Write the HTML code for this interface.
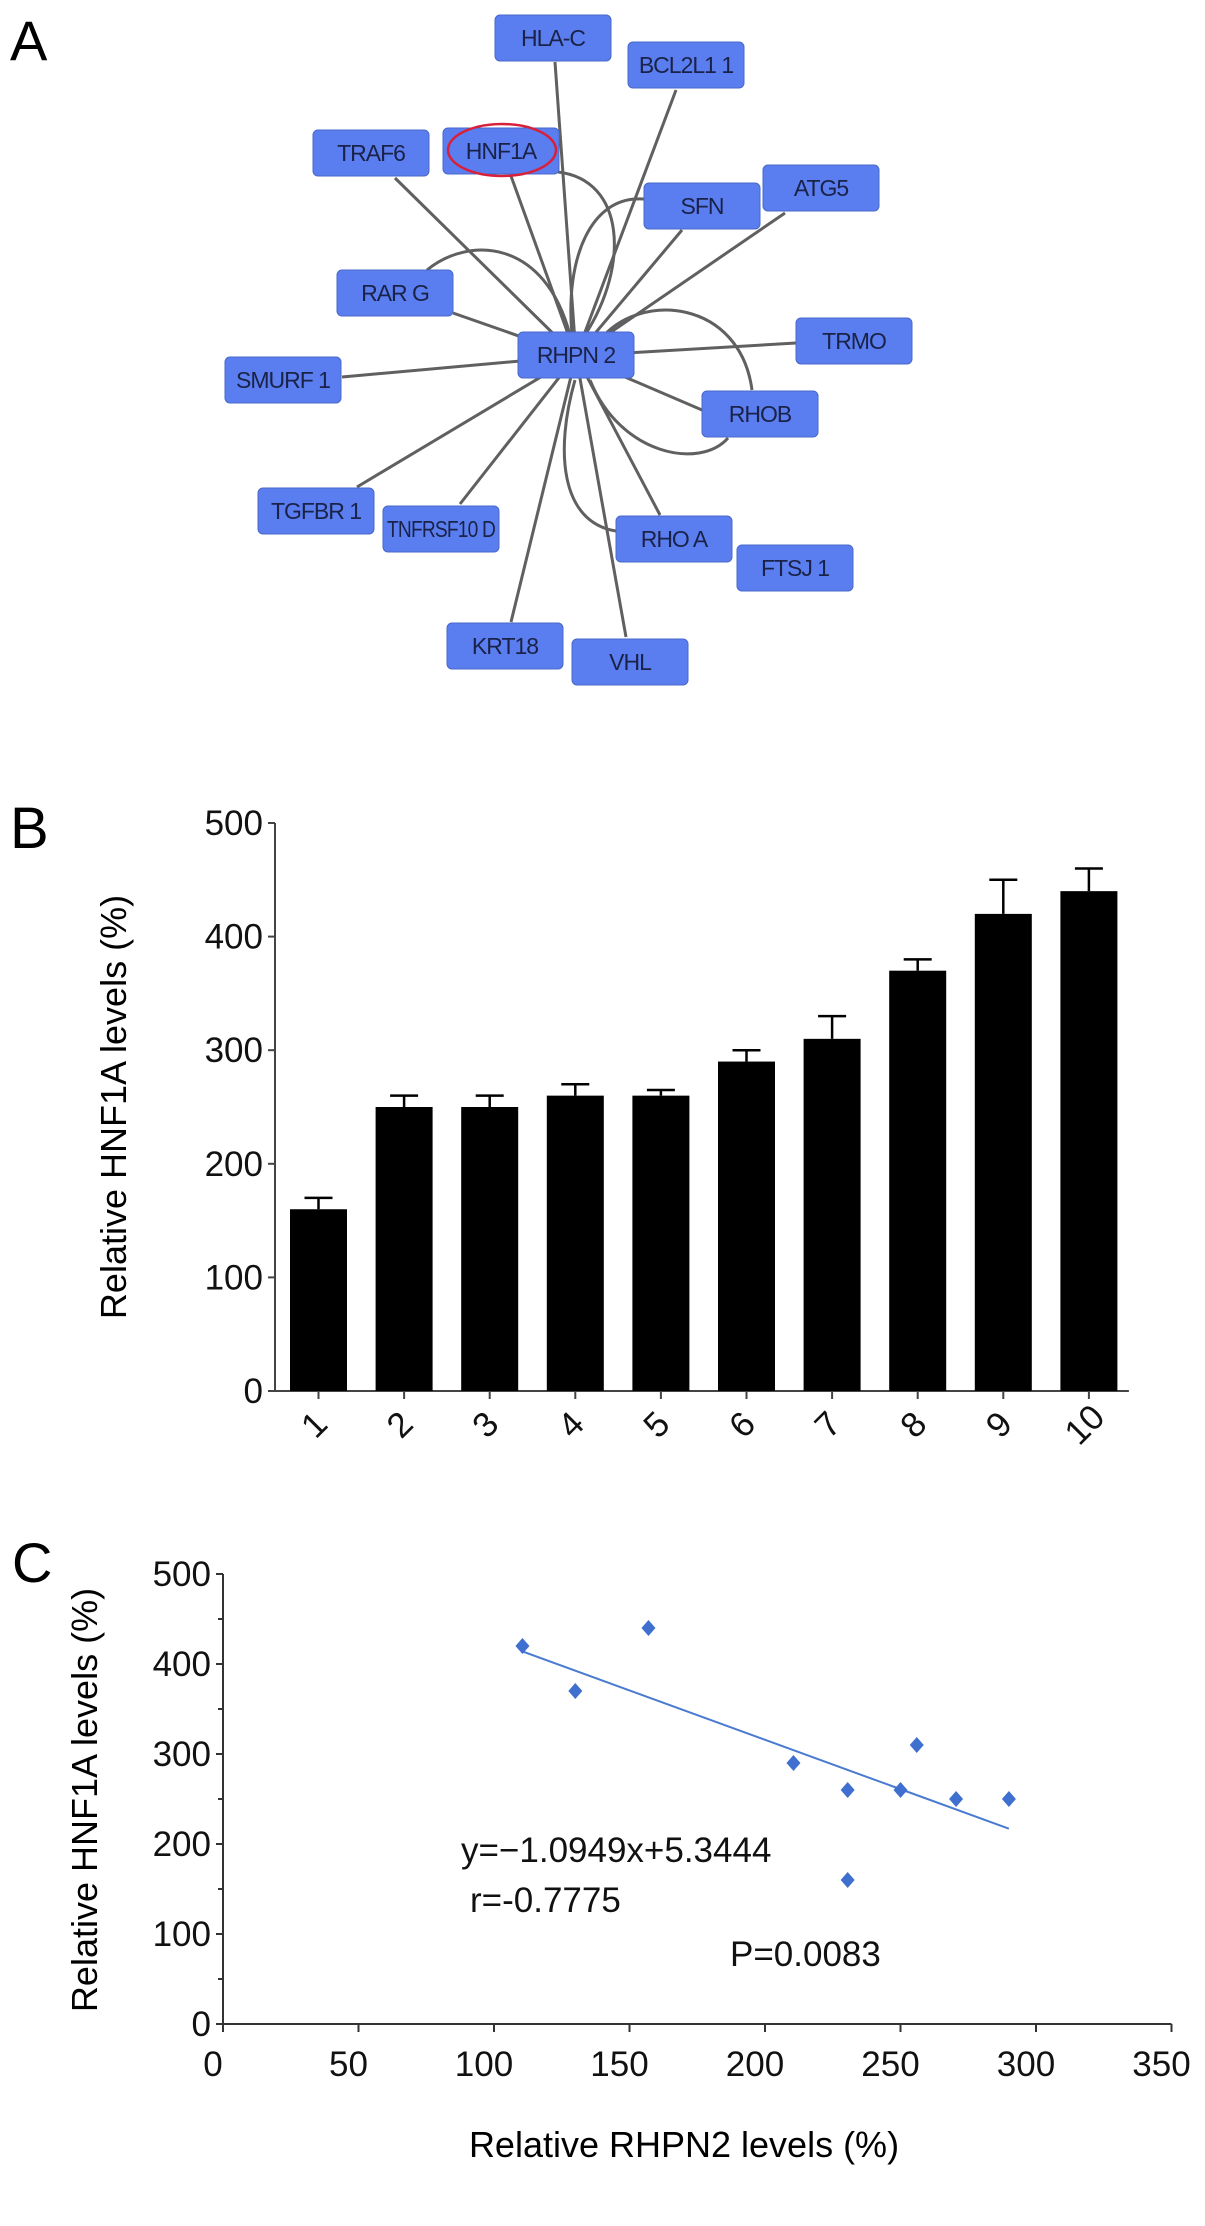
<!DOCTYPE html>
<html><head><meta charset="utf-8"><title>RHPN2 HNF1A figure</title>
<style>
html,body{margin:0;padding:0;background:#fff;}
svg{display:block;font-family:"Liberation Sans",Arial,sans-serif;}
.node rect{fill:#5a7ef0;stroke:#4a68c8;stroke-width:1;}
.node text{font-family:"Liberation Sans Narrow","Liberation Sans",sans-serif;font-size:23px;fill:#1a2248;text-anchor:middle;letter-spacing:-1px;}
.edge{stroke:#606060;stroke-width:3;fill:none;}
.tick{font-family:"Liberation Sans Narrow","Liberation Sans",sans-serif;font-size:35px;fill:#111;}
</style></head>
<body>
<svg id="fig" width="1205" height="2226" viewBox="0 0 1205 2226">
  <text x="10" y="60" font-size="56">A</text>
  <g id="network"></g>
  <text x="10" y="848" font-size="58">B</text>
  <g id="barchart"></g>
  <text x="12" y="1582" font-size="56">C</text>
  <g id="scatter"></g>
</svg>
<script>
const NS="http://www.w3.org/2000/svg";
function mk(tag,attrs,parent){const e=document.createElementNS(NS,tag);for(const k in attrs)e.setAttribute(k,attrs[k]);parent.appendChild(e);return e;}

/* ---------- Panel A: network ---------- */
const nodeNames=["HLA-C","BCL2L1 1","TRAF6","HNF1A","SFN","ATG5","RAR G","RHPN 2","TRMO","SMURF 1","RHOB","TGFBR 1","TNFRSF10 D","RHO A","FTSJ 1","KRT18","VHL"];
const nodeX=[495,628,313,443,644,763,337,518,796,225,702,258,383,616,737,447,572];
const nodeY=[15,42,130,128,183,165,270,332,318,357,391,488,506,516,545,623,639];
const net=document.getElementById('network');
const hub={x:576,y:356};
const edgeEnds=[[555,62],[676,90],[395,178],[511,176],[682,230],[785,213],[453,313],null,[796,343],[342,377],[702,410],[357,487],[460,504],[660,515],null,[511,622],[626,637]];
edgeEnds.forEach((p,i)=>{ if(!p) return;
  const l=mk('line',{x1:hub.x,y1:hub.y,x2:p[0],y2:p[1],class:'edge'},net);
  
  
});
const curves=["M427,270 C470,235 545,240 570,335","M558,172 C625,180 630,265 585,335","M644,199 C590,195 565,260 572,335","M752,390 C740,300 640,290 600,340","M728,438 C700,470 620,455 590,380","M616,531 C560,522 555,450 575,380"];
curves.forEach((d,i)=>{const c=mk('path',{d:d,class:'edge'},net);
  
  });
nodeNames.forEach((n,i)=>{
  const g=mk('g',{class:'node'},net);
  
  
  mk('rect',{x:nodeX[i],y:nodeY[i],width:116,height:46,rx:5},g);
  const t=mk('text',{x:nodeX[i]+58,y:nodeY[i]+31},g);t.textContent=n;
  if(n.length>8){t.setAttribute('textLength',108);t.setAttribute('lengthAdjust','spacingAndGlyphs');}
});
const ell=mk('ellipse',{cx:502,cy:150,rx:54,ry:26,fill:'none',stroke:'#d8203a','stroke-width':2.5},net);



/* ---------- Panel B: bar chart ---------- */
const barCats=["1","2","3","4","5","6","7","8","9","10"];
const barVals=[160,250,250,260,260,290,310,370,420,440];
const barErr=[10,10,10,10,5,10,20,10,30,20];
const barTicks=[0,100,200,300,400,500];
(function(){
  const g=document.getElementById('barchart');
  const x0=275,y0=1391,pxPer=1.136,x1=318.5,pitch=85.6,bw=57;
  const ys=v=>y0-v*pxPer, xs=i=>x1+i*pitch;
  mk('line',{x1:x0,y1:ys(500),x2:x0,y2:y0,stroke:'#444','stroke-width':2},g);
  mk('line',{x1:x0-6,y1:y0,x2:xs(9)+40,y2:y0,stroke:'#444','stroke-width':2},g);
  barTicks.forEach(v=>{
    mk('line',{x1:x0-7,y1:ys(v),x2:x0,y2:ys(v),stroke:'#444','stroke-width':2},g);
    const t=mk('text',{x:x0-12,y:ys(v)+12,'text-anchor':'end',class:'tick'},g);t.textContent=v;
    
    
  });
  barCats.forEach((c,i)=>{
    const cx=xs(i);
    const e=mk('line',{x1:cx,y1:ys(barVals[i]),x2:cx,y2:ys(barVals[i]+barErr[i]),stroke:'#000','stroke-width':2.5},g);
    
    
    mk('line',{x1:cx-14,y1:ys(barVals[i]+barErr[i]),x2:cx+14,y2:ys(barVals[i]+barErr[i]),stroke:'#000','stroke-width':2.5},g);
    const r=mk('rect',{x:cx-bw/2,y:ys(barVals[i]),width:bw,height:barVals[i]*pxPer,fill:'#000'},g);
    
    
    mk('line',{x1:cx,y1:y0,x2:cx,y2:y0+8,stroke:'#444','stroke-width':2},g);
    const t=mk('text',{x:0,y:0,'text-anchor':'middle',class:'tick',transform:`translate(${cx+4},${y0+42}) rotate(-45)`},g);
    t.textContent=c;
    
    
  });
  const yt=mk('text',{x:0,y:0,'text-anchor':'middle','font-size':36,transform:`translate(126,${ys(250)}) rotate(-90)`},g);
  yt.textContent='Relative HNF1A levels (%)';
  
  
})();

/* ---------- Panel C: scatter ---------- */
const scX=[110.5,130,157,210.5,230.5,230.5,250,256,270.5,290];
const scY=[420,370,440,290,260,160,260,310,250,250];
const trendX=[110.5,290];
const trendY=[414,217];
const scXTicks=[0,50,100,150,200,250,300,350];
const scYTicks=[0,100,200,300,400,500];
(function(){
  const g=document.getElementById('scatter');
  const ox=223,oy=2024,px=135.5/50,py=0.9;
  const xs=v=>ox+v*px, ys=v=>oy-v*py;
  mk('line',{x1:ox,y1:ys(500),x2:ox,y2:oy,stroke:'#333','stroke-width':2},g);
  mk('line',{x1:ox,y1:oy,x2:xs(350),y2:oy,stroke:'#333','stroke-width':2},g);
  scYTicks.forEach(v=>{
    mk('line',{x1:ox-7,y1:ys(v),x2:ox,y2:ys(v),stroke:'#333','stroke-width':2},g);
    if(v<500) mk('line',{x1:ox-5,y1:ys(v+50),x2:ox,y2:ys(v+50),stroke:'#333','stroke-width':2},g);
    const t=mk('text',{x:ox-12,y:ys(v)+12,'text-anchor':'end',class:'tick'},g);t.textContent=v;
    
    
  });
  scXTicks.forEach(v=>{
    mk('line',{x1:xs(v),y1:oy,x2:xs(v),y2:oy+8,stroke:'#333','stroke-width':2},g);
    const t=mk('text',{x:xs(v)-10,y:oy+52,'text-anchor':'middle',class:'tick'},g);t.textContent=v;
    
    
  });
  const tl=mk('line',{x1:xs(trendX[0]),y1:ys(trendY[0]),x2:xs(trendX[1]),y2:ys(trendY[1]),stroke:'#4a7bd0','stroke-width':2},g);
  
  
  scX.forEach((v,i)=>{
    const cx=xs(v),cy=ys(scY[i]);
    const p=mk('polygon',{points:`${cx},${cy-8} ${cx+7},${cy} ${cx},${cy+8} ${cx-7},${cy}`,fill:'#3f6fcf'},g);
    
    
  });
  const texts=[["y=\u22121.0949x+5.3444",461,1862,'regression-equation'],["r=-0.7775",470,1912,'correlation-r'],["P=0.0083",730,1966,'p-value']];
  texts.forEach(a=>{const t=mk('text',{x:a[1],y:a[2],'font-size':35,fill:'#111','font-family':'"Liberation Sans Narrow","Liberation Sans",sans-serif'},g);t.textContent=a[0];
    
    });
  const xt=mk('text',{x:684,y:2157,'text-anchor':'middle','font-size':36},g);
  xt.textContent='Relative RHPN2 levels (%)';
  
  
  const yt=mk('text',{x:0,y:0,'text-anchor':'middle','font-size':36,transform:`translate(97,1800) rotate(-90)`},g);
  yt.textContent='Relative HNF1A levels (%)';
  
  
})();
</script>
</body></html>
